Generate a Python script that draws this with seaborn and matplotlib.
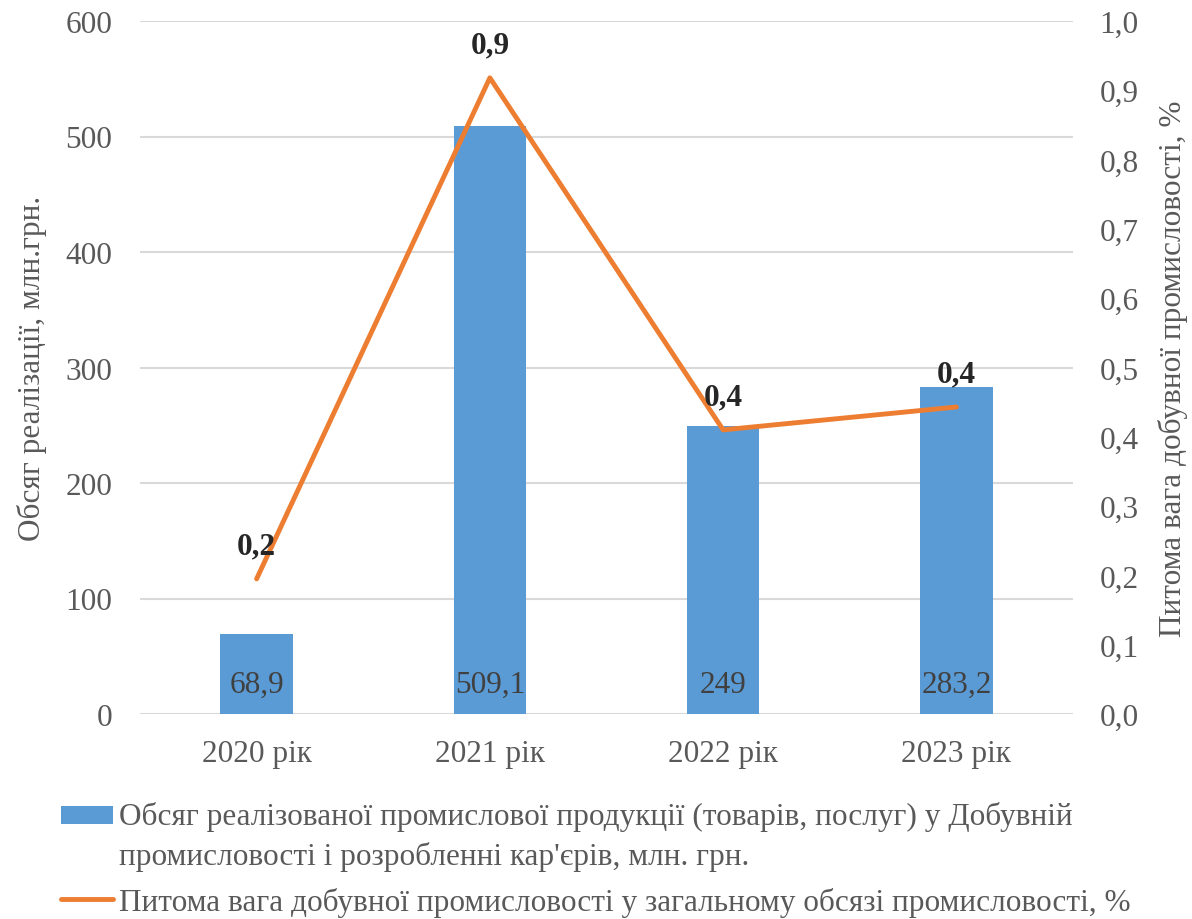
import matplotlib
matplotlib.use("Agg")
import matplotlib.pyplot as plt
import seaborn as sns
import pandas as pd
from matplotlib.lines import Line2D
from matplotlib.patches import Patch, Rectangle
from matplotlib.legend_handler import HandlerPatch
from matplotlib.ticker import FuncFormatter, MultipleLocator

years = ["2020 рік", "2021 рік", "2022 рік", "2023 рік"]
volume = [68.9, 509.1, 249, 283.2]
volume_labels = ["68,9", "509,1", "249", "283,2"]
share = [0.195, 0.918, 0.41, 0.443]
share_labels = ["0,2", "0,9", "0,4", "0,4"]

bar_name = "Обсяг реалізованої промислової продукції (товарів, послуг) у Добувній\nпромисловості і розробленні кар'єрів, млн. грн."
line_name = "Питома вага добувної промисловості у загальному обсязі промисловості, %"
left_label = "Обсяг реалізації, млн.грн."
right_label = "Питома вага добувної промисловості, %"

sns.set_theme(style="white")
plt.rcParams["font.family"] = ["Liberation Serif", "DejaVu Serif"]

BLUE = "#5B9BD5"
ORANGE = "#ED7D31"
GRAY = "#595959"
FS = 22.5

df = pd.DataFrame({"year": years, "volume": volume, "share": share})

fig = plt.figure(figsize=(11.92, 9.2), dpi=100)
ax = fig.add_axes([140 / 1192, 1 - 715 / 920, 933 / 1192, 693 / 920])

sns.barplot(data=df, x="year", y="volume", color=BLUE, width=0.31, ax=ax,
            saturation=1, edgecolor="none")
ax.set_ylim(0, 600)
ax.set_xlim(-0.5, 3.5)
ax.yaxis.set_major_locator(MultipleLocator(100))
ax.grid(axis="y", color="#D9D9D9", linewidth=1.5)
ax.set_axisbelow(True)
for s in ax.spines.values():
    s.set_visible(False)
ax.tick_params(axis="y", labelsize=FS, colors=GRAY, length=0, pad=20)
ax.tick_params(axis="x", labelsize=FS, colors=GRAY, length=0, pad=18)
ax.set_xlabel("")
ax.set_ylabel(left_label, fontsize=FS, color=GRAY, labelpad=13)

for i, (v, lab) in enumerate(zip(volume, volume_labels)):
    ax.annotate(lab, xy=(i, 0), xytext=(0, 11), textcoords="offset points",
                ha="center", va="bottom", fontsize=FS, color="#404040")

ax2 = ax.twinx()
sns.lineplot(x=list(range(len(years))), y=share, ax=ax2, color=ORANGE,
             linewidth=3.5, sort=False)
ax2.set_ylim(0, 1.0)
ax2.set_xlim(-0.5, 3.5)
ax2.yaxis.set_major_locator(MultipleLocator(0.1))
ax2.yaxis.set_major_formatter(FuncFormatter(lambda v, p: f"{v:.1f}".replace(".", ",")))
for s in ax2.spines.values():
    s.set_visible(False)
ax2.tick_params(axis="y", labelsize=FS, colors=GRAY, length=0, pad=19)
ax2.set_ylabel(right_label, fontsize=FS, color=GRAY, labelpad=14)
ax2.grid(False)

for i, (v, lab) in enumerate(zip(share, share_labels)):
    ax2.annotate(lab, xy=(i, v), xytext=(0, 24), textcoords="offset points",
                 ha="center", va="center", fontsize=FS, fontweight="bold",
                 color="#262626")


def top_patch(legend, orig_handle, xdescent, ydescent, width, height, fontsize):
    return Rectangle((-xdescent, -ydescent + 0.67 * fontsize), width, height)


handles = [Patch(facecolor=BLUE, edgecolor="none"),
           Line2D([0], [0], color=ORANGE, linewidth=3.5)]
leg = fig.legend(handles, [bar_name, line_name], loc="upper left",
                 bbox_to_anchor=(0.0512, 0.128), frameon=False, fontsize=FS,
                 labelcolor=GRAY, handlelength=1.66, handleheight=0.51,
                 handletextpad=0.19, labelspacing=0.5, borderaxespad=0,
                 borderpad=0,
                 handler_map={Patch: HandlerPatch(patch_func=top_patch)})
for t in leg.get_texts():
    t.set_linespacing(1.42)

fig.savefig("out.png", dpi=100)
